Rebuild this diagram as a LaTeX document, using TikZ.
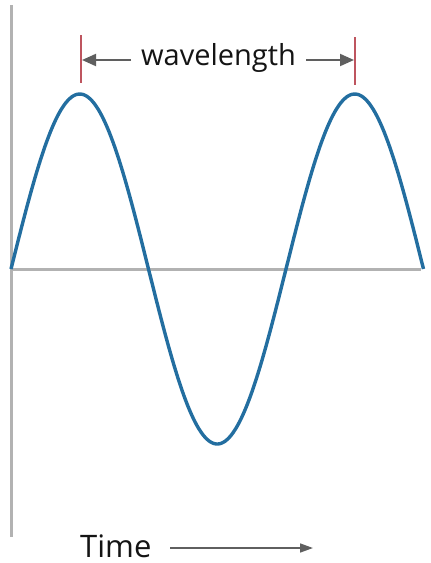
\documentclass[tikz,border=0pt]{standalone}
\usepackage{fontspec}
\setmainfont{Open Sans}
\usetikzlibrary{arrows.meta}
\definecolor{wave}{RGB}{35,110,160}
\definecolor{axisgray}{RGB}{178,178,178}
\definecolor{tickred}{RGB}{190,85,95}
\definecolor{arrgray}{RGB}{95,95,95}
\definecolor{txt}{RGB}{20,20,20}
\tikzset{
  axisline/.style={draw=axisgray, line width=3pt},
  waveline/.style={draw=wave, line width=3.4pt, line join=round},
  tickline/.style={draw=tickred, line width=2pt},
  arr/.style={draw=arrgray, line width=2pt, -{Triangle[length=14pt,width=12pt]}},
  lbl/.style={text=txt, inner sep=0pt}
}
\begin{document}
\begin{tikzpicture}[x=1pt,y=-1pt]
\useasboundingbox (0,0) rectangle (431,563);
% axes
\coordinate (vtop) at (11,5);
\coordinate (vbot) at (11,537);
\coordinate (o) at (11,269);
\coordinate (hend) at (421,269);
\draw[axisline] (vtop) -- (vbot);
\draw[axisline] (o) -- (hend);
% wave
\draw[waveline] plot[domain=0:540, samples=220] ({11+\x/360*275}, {269-175*sin(\x)});
% ticks
\coordinate (lt1) at (81,35);
\coordinate (lt2) at (81,83);
\coordinate (rt1) at (355,37);
\coordinate (rt2) at (355,85);
\draw[tickline] (lt1) -- (lt2);
\draw[tickline] (rt1) -- (rt2);
% wavelength label and arrows
\node[lbl, anchor=base, font=\fontsize{29}{34}\selectfont] (wl) at (218.5,65) {wavelength};
\coordinate (la) at (131,60);
\coordinate (lh) at (82,60);
\coordinate (ra) at (306,60);
\coordinate (rh) at (354,60);
\draw[arr] (la) -- (lh);
\draw[arr] (ra) -- (rh);
% time label
\node[lbl, anchor=base west, font=\fontsize{31}{36}\selectfont] (time) at (80,557) {Time};
\coordinate (ta) at (170,548);
\coordinate (tb) at (313,548);
\draw[arr, line width=1.6pt, -{Triangle[length=13pt,width=9pt]}] (ta) -- (tb);
\end{tikzpicture}
\end{document}
